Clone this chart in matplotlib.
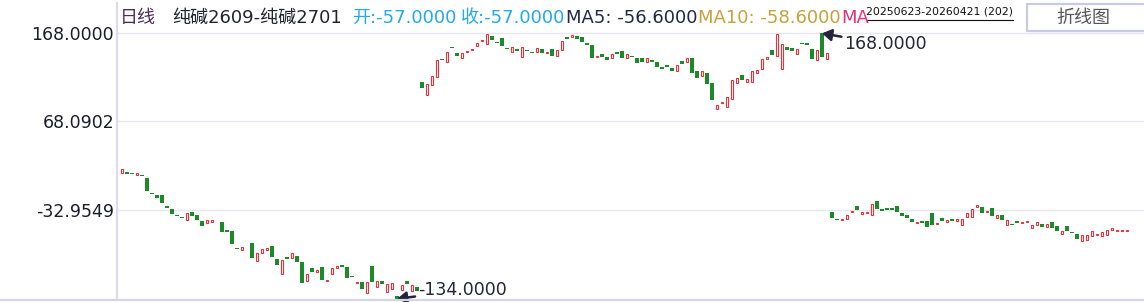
import numpy as np
import matplotlib.pyplot as plt
from matplotlib.patches import Rectangle
from matplotlib.lines import Line2D

plt.rcParams['font.family'] = ['DejaVu Sans', 'Noto Sans CJK SC']

W, H = 1144, 302

# daily spread candles (open, close), 20250623-20260421, 202 bars
left_open = [9.4, 9.8, 8.9, 6.5, 7.1, 3.4, -13.7, -16.0, -16.0, -28.5,
             -32.2, -38.7, -41.0, -44.0, -35.3, -38.7, -45.2, -48.2, -46.3, -46.3,
             -46.3, -55.8, -56.6, -76.3, -78.2, -69.1, -70.5, -90.7, -82.3, -78.2,
             -74.4, -88.8, -106.3, -86.5, -88.0, -85.3, -92.1, -113.4, -99.0, -103.9,
             -97.9, -114.1, -106.3, -99.4, -95.7, -97.9, -108.1, -115.7, -114.9, -127.8,
             -96.7, -120.6, -113.8, -125.9, -123.3, -131.0, -124.0, -114.1, -124.8, -121.0]
left_close = [13.6, 8.3, 8.3, 9.1, 6.0, -11.1, -14.5, -19.0, -24.7, -30.4,
              -37.2, -39.5, -41.8, -36.4, -39.5, -44.4, -50.9, -44.7, -44.7, -47.1,
              -57.7, -58.1, -71.4, -77.1, -75.5, -69.9, -87.3, -82.3, -77.4, -76.3,
              -86.2, -95.2, -90.3, -88.4, -82.3, -92.5, -115.7, -105.8, -103.9, -101.3,
              -112.3, -112.7, -99.0, -96.4, -98.3, -110.0, -109.6, -114.9, -122.5, -115.3,
              -114.9, -114.1, -116.8, -116.8, -116.4, -134.0, -118.7, -117.5, -118.7, -124.8]

mid_open = [112.6, 98.2, 109.5, 118.6, 139.1, 135.7, 152.4, 145.6, 140.3, 147.1,
            149.4, 153.9, 159.6, 156.2, 164.6, 158.5, 162.3, 151.3, 146.4, 150.2,
            140.7, 149.0, 146.7, 146.4, 150.2, 145.9, 150.2, 141.8, 148.7, 163.5,
            163.5, 164.6, 163.5, 157.0, 154.7, 141.4, 144.4, 141.0, 140.3, 146.7,
            147.9, 140.3, 142.2, 139.9, 139.9, 135.7, 137.6, 135.3, 130.0, 131.9,
            128.5, 125.5, 136.5, 135.7, 139.9, 125.1, 119.8, 122.8, 111.5, 82.2,
            89.1, 83.8, 92.9, 111.1, 120.6, 112.3, 112.3, 122.5, 127.1, 138.4,
            149.0, 141.8, 127.1, 152.4, 151.3, 144.1, 157.0, 157.0, 150.2, 137.3,
            168.0, 138.4]
mid_close = [106.1, 110.0, 119.4, 137.6, 138.0, 146.4, 151.6, 142.2, 145.3, 147.9,
             150.2, 156.6, 160.4, 166.9, 160.7, 157.3, 153.9, 150.5, 152.4, 147.9,
             152.4, 148.2, 145.9, 151.0, 145.9, 146.7, 142.5, 148.7, 159.3, 161.9,
             165.7, 161.9, 158.5, 155.1, 140.3, 142.2, 141.4, 138.0, 144.1, 144.4,
             140.3, 144.1, 141.4, 134.6, 135.3, 139.9, 135.7, 130.0, 127.7, 130.0,
             125.5, 131.9, 133.4, 139.9, 122.8, 117.5, 125.1, 110.3, 92.5, 86.4,
             89.9, 95.5, 114.9, 117.2, 115.2, 116.0, 125.1, 126.3, 138.8, 141.0,
             143.7, 167.0, 155.5, 149.4, 148.2, 149.8, 156.2, 155.1, 139.1, 148.7,
             141.4, 145.3]

right_open = [-35.3, -43.3, -44.0, -42.9, -35.0, -28.5, -37.2, -36.1, -38.4, -22.8,
              -31.9, -30.7, -30.7, -28.5, -36.4, -38.7, -43.3, -47.5, -45.5, -45.5,
              -36.4, -48.6, -42.1, -46.3, -43.3, -45.2, -50.4, -40.6, -40.6, -29.2,
              -29.6, -35.0, -30.7, -41.8, -38.7, -49.7, -48.9, -45.5, -47.5, -46.3,
              -53.2, -49.7, -48.9, -52.0, -46.7, -51.2, -60.0, -51.2, -58.1, -60.4,
              -67.9, -66.8, -62.3, -61.1, -62.3, -61.1, -55.4, -57.0, -57.0, -57.0]
right_close = [-42.1, -44.0, -43.3, -38.7, -34.2, -32.7, -35.3, -35.3, -26.2, -31.5,
               -33.8, -32.7, -32.7, -35.0, -39.5, -41.8, -46.3, -46.7, -47.5, -52.0,
               -50.4, -47.8, -45.2, -44.4, -45.2, -43.3, -43.3, -36.4, -31.9, -27.3,
               -36.4, -34.2, -39.5, -38.7, -44.0, -44.4, -49.7, -47.5, -46.7, -45.5,
               -50.1, -46.7, -52.0, -48.9, -53.2, -56.6, -57.0, -56.6, -58.9, -65.7,
               -61.5, -61.5, -57.0, -60.4, -58.1, -55.8, -53.5, -56.4, -56.4, -57.0]

y_ticks = [168.0, 68.0902, -32.9549]

opens = np.array(left_open + mid_open + right_open)
closes = np.array(left_close + mid_close + right_close)
idx = np.arange(len(opens))

red = '#e8323c'
green = '#1c8a28'
dark = '#23253a'


def px(x, y):
    return x / W, 1 - y / H


fig = plt.figure(figsize=(W / 100, H / 100), dpi=100)
ax = fig.add_axes([117 / W, 3 / H, 1 - 117 / W, 296 / H])
ax.set_xlim(-1, (W - 122) / 5)
ax.set_ylim(-134.2, 202.5)

for t in y_ticks:
    ax.axhline(t, color='#e6e6f0', lw=1, zorder=0)

up = closes >= opens
low = np.minimum(opens, closes)
height = np.maximum(np.abs(closes - opens), 1.0)
ax.bar(idx[up], height[up], bottom=low[up], width=0.42, facecolor='white',
       edgecolor=red, linewidth=0.8, zorder=2)
ax.bar(idx[~up], height[~up], bottom=low[~up], width=0.65, color=green,
       linewidth=0, zorder=2)

# max / min markers
hi = np.maximum(opens, closes)
imax = int(np.argmax(hi))
imin = int(np.argmin(low))
arrow = dict(arrowstyle='-|>,head_length=0.45,head_width=0.28', color=dark,
             lw=1.8, shrinkA=0, shrinkB=0)
ax.annotate(f'{hi[imax]:.4f}', xy=(imax, hi[imax]), xytext=(16, -8),
            textcoords='offset points', ha='left', va='center', fontsize=12.5,
            color=dark, arrowprops=arrow, zorder=5)
ax.annotate(f'{low[imin]:.4f}', xy=(imin, low[imin]), xytext=(15, 6),
            textcoords='offset points', ha='left', va='center', fontsize=12.5,
            color=dark, arrowprops=arrow, zorder=5, annotation_clip=False)

ax.set_xticks([])
ax.set_yticks(y_ticks)
ax.set_yticklabels([f'{t:.4f}' for t in y_ticks], fontsize=12.5, color='#1c1c2c')
ax.tick_params(axis='y', length=0, pad=2)
for s in ['top', 'right', 'bottom']:
    ax.spines[s].set_visible(False)
ax.spines['left'].set_color('#dcdcee')
ax.spines['left'].set_linewidth(1.6)

# bottom border across the whole panel
fig.add_artist(Line2D([0, 1], [1 - 299.5 / H] * 2, transform=fig.transFigure,
                      color='#d4d4e6', lw=1.6))

# header text
title_parts = [
    ('日线', 120, '#4a2c5c'),
    ('纯碱2609-纯碱2701', 172, '#23232f'),
    ('开:-57.0000', 352, '#22aaf0'),
    ('收:-57.0000', 461, '#22aaf0'),
    ('MA5: -56.6000', 566, '#1f2a44'),
    ('MA10: -58.6000', 698, '#c6a23a'),
    ('MA', 841, '#e2337c'),
]
for txt, x0, col in title_parts:
    fig.text(*px(x0, 18), txt, ha='left', va='center', fontsize=13, color=col)

fig.text(*px(866, 11), '20250623-20260421 (202)', ha='left', va='center',
         fontsize=7.8, color='#111111')
fig.add_artist(Line2D([866 / W, 1013 / W], [1 - 19.5 / H] * 2,
                      transform=fig.transFigure, color='#111111', lw=0.8))

# button
fig.add_artist(Rectangle(px(1027, 31), 130 / W, 27 / H, transform=fig.transFigure,
                         facecolor='white', edgecolor='#c9cbe3', lw=1.6))
fig.text(*px(1083, 18), '折线图', ha='center', va='center', fontsize=13,
         color='#555555')

fig.savefig('out.png', dpi=100)
